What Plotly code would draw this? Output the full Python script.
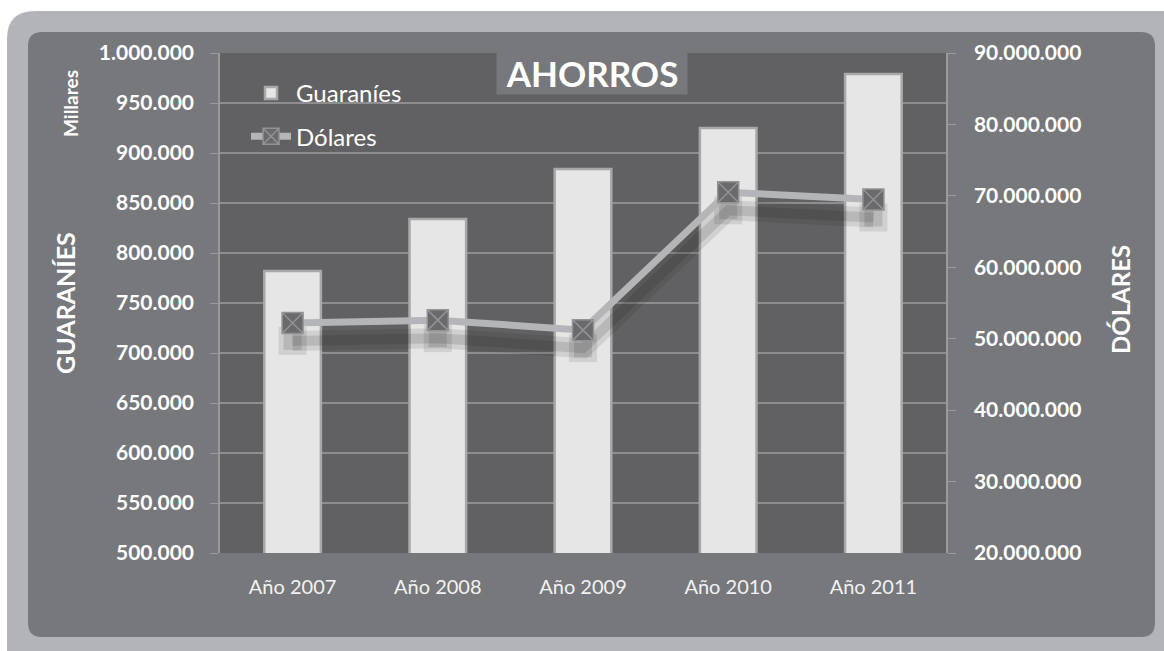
import plotly.graph_objects as go

years = ["Año 2007", "Año 2008", "Año 2009", "Año 2010", "Año 2011"]
guaranies = [782000, 834000, 884000, 925000, 979000]      # miles de guaraníes
dolares = [52200000, 52600000, 51200000, 70500000, 69500000]

W, H = 1164, 651
L, R, T, B = 220, 946, 53, 553   # plot area in pixels
USD_RANGE = [20000000, 90000000]


def px(x):
    return (x - L) / (R - L)


def py(y):
    return (B - y) / (B - T)


def rounded_rect(x0, y0, x1, y1, r):
    # path in paper coords built from a pixel-space rounded rectangle
    parts = [f"M {px(x0 + r)} {py(y0)}", f"L {px(x1 - r)} {py(y0)}",
             f"Q {px(x1)} {py(y0)} {px(x1)} {py(y0 + r)}",
             f"L {px(x1)} {py(y1 - r)}",
             f"Q {px(x1)} {py(y1)} {px(x1 - r)} {py(y1)}",
             f"L {px(x0 + r)} {py(y1)}",
             f"Q {px(x0)} {py(y1)} {px(x0)} {py(y1 - r)}",
             f"L {px(x0)} {py(y0 + r)}",
             f"Q {px(x0)} {py(y0)} {px(x0 + r)} {py(y0)}", "Z"]
    return " ".join(parts)


FONT = "Lato, 'Open Sans', sans-serif"

# shadow of the dollar line: same data on a hidden axis shifted down by a few px
shift = 18 * (USD_RANGE[1] - USD_RANGE[0]) / (B - T)
shadow_range = [USD_RANGE[0] + shift, USD_RANGE[1] + shift]

fig = go.Figure()

fig.add_trace(go.Bar(
    x=years, y=guaranies, name="Guaraníes",
    width=0.39,
    marker=dict(color="#e6e6e6", line=dict(color="#a8a8aa", width=2.5)),
    legendgroup="g", yaxis="y",
))

# two soft layers to fake a blurred drop shadow
for w, ms, a in [(20, 28, 0.10), (10, 18, 0.13)]:
    fig.add_trace(go.Scatter(
        x=years, y=dolares, yaxis="y2", showlegend=False, hoverinfo="skip",
        mode="lines+markers",
        line=dict(color=f"rgba(20,20,20,{a})", width=w),
        marker=dict(symbol="square", size=ms, color=f"rgba(20,20,20,{a})"),
    ))

fig.add_trace(go.Scatter(
    x=years, y=dolares, name="Dólares", yaxis="y3",
    mode="lines+markers",
    line=dict(color="#b4b5b8", width=7),
    marker=dict(symbol="square-x", size=21, color="#6a6a6c",
                line=dict(color="#939395", width=1.5)),
    legendgroup="d",
))

tick_font = dict(size=21, color="white", weight="bold")

fig.update_layout(
    width=W, height=H,
    margin=dict(l=L, r=W - R, t=T, b=H - B),
    paper_bgcolor="white",
    plot_bgcolor="#616163",
    separators=",.",
    font=dict(family=FONT, color="white"),
    showlegend=True,
    legend=dict(x=px(246), y=py(71), xanchor="left", yanchor="top",
                bgcolor="rgba(0,0,0,0)", font=dict(size=24, color="white"),
                traceorder="grouped", tracegroupgap=9, itemwidth=40),
    bargap=0.6,
    xaxis=dict(
        showgrid=False, ticks="", showline=False,
        tickfont=dict(size=20, color="#f2f2f2"),
        ticklabelstandoff=20,
    ),
    yaxis=dict(
        range=[500000, 1000000], dtick=50000, tickformat=",d",
        showgrid=True, gridcolor="#8e8e90", gridwidth=1.5,
        showline=True, linecolor="#9a9a9c", linewidth=1.5,
        ticks="outside", ticklen=8, tickcolor="#9a9a9c",
        tickfont=tick_font,
        ticklabelstandoff=12, zeroline=False,
    ),
    yaxis2=dict(
        range=shadow_range, overlaying="y", visible=False,
    ),
    yaxis3=dict(
        range=USD_RANGE, dtick=10000000, tickformat=",d",
        overlaying="y", side="right", showgrid=False,
        showline=True, linecolor="#9a9a9c", linewidth=1.5,
        ticks="outside", ticklen=8, tickcolor="#9a9a9c",
        tickfont=tick_font,
        ticklabelstandoff=14, zeroline=False,
    ),
    shapes=[
        dict(type="path", xref="paper", yref="paper", layer="below",
             path=rounded_rect(7, 11, 1190, 680, 28),
             fillcolor="#b3b4b7", line=dict(width=0)),
        dict(type="path", xref="paper", yref="paper", layer="below",
             path=rounded_rect(28, 32, 1155, 637, 14),
             fillcolor="#77787b", line=dict(width=0)),
        dict(type="rect", xref="paper", yref="paper", layer="below",
             x0=0, x1=1, y0=0, y1=1,
             fillcolor="#616163", line=dict(width=0)),
    ],
    annotations=[
        dict(text="<b>AHORROS</b>", xref="paper", yref="paper",
             x=px(592), y=py(73), xanchor="center", yanchor="middle",
             showarrow=False, font=dict(size=35, color="white"),
             bgcolor="#77787b", width=188, height=40),
        dict(text="<b>Millares</b>", xref="paper", yref="paper",
             x=px(70), y=py(104), xanchor="center", yanchor="middle",
             textangle=-90, showarrow=False,
             font=dict(size=19, color="white")),
        dict(text="<b>GUARANÍES</b>", xref="paper", yref="paper",
             x=px(65), y=py(303), xanchor="center", yanchor="middle",
             textangle=-90, showarrow=False,
             font=dict(size=25, color="white")),
        dict(text="<b>DÓLARES</b>", xref="paper", yref="paper",
             x=px(1120), y=py(300), xanchor="center", yanchor="middle",
             textangle=-90, showarrow=False,
             font=dict(size=24, color="white")),
    ],
)

fig.write_html("out.html", config={"displayModeBar": False},
               post_script="document.body.style.margin='0';")
